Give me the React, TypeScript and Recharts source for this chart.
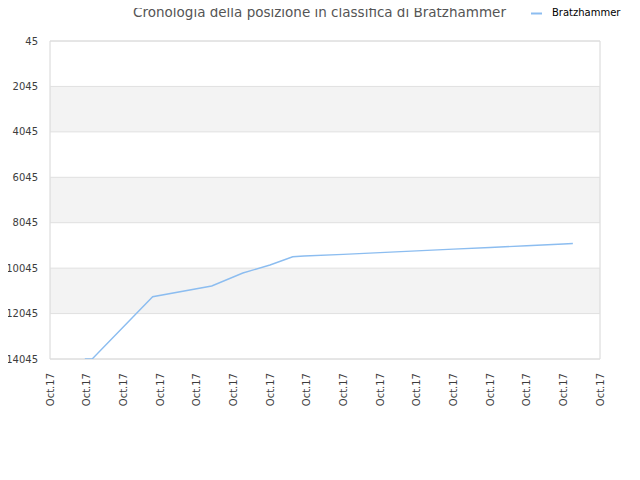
import {
  LineChart,
  Line,
  XAxis,
  YAxis,
  ReferenceArea,
  ReferenceLine,
} from "recharts";

// x positions are measured in tick slots (0..15), all labelled Oct.17
const stamps = [0.95, 1.15, 2.8, 4.41, 5.26, 6.0, 6.62, 6.93, 8, 9, 10, 11, 12, 13, 14, 14.26];
const ranks = [14045, 14045, 11302, 10831, 10259, 9907, 9542, 9511, 9437, 9362, 9287, 9208, 9133, 9058, 8983, 8961];

const xTicks = [0, 1, 2, 3, 4, 5, 6, 7, 8, 9, 10, 11, 12, 13, 14, 15];
const xLabels = [
  "Oct.17", "Oct.17", "Oct.17", "Oct.17", "Oct.17", "Oct.17", "Oct.17", "Oct.17",
  "Oct.17", "Oct.17", "Oct.17", "Oct.17", "Oct.17", "Oct.17", "Oct.17", "Oct.17",
];
const yTicks = [45, 2045, 4045, 6045, 8045, 10045, 12045, 14045];
const bands = [
  [2045, 4045],
  [6045, 8045],
  [10045, 12045],
];

const seriesName = "Bratzhammer";
const title = "Cronologia della posizione in classifica di Bratzhammer";

const FONT = "'DejaVu Sans', sans-serif";
const LINE_COLOR = "#8cbdf0";

const data = stamps.map((t, i) => ({ t, rank: ranks[i] }));

function XTick({ x, y, payload }: any) {
  const yy = y + 6;
  return (
    <text
      x={x}
      y={yy}
      transform={`rotate(-90 ${x} ${yy})`}
      textAnchor="end"
      dominantBaseline="central"
      fontSize={10}
      fontFamily={FONT}
      fill="#3d3d3d"
    >
      {xLabels[payload.index] ?? xLabels[0]}
    </text>
  );
}

function YTick({ x, y, payload }: any) {
  return (
    <text
      x={x - 4}
      y={y}
      textAnchor="end"
      dominantBaseline="central"
      fontSize={10}
      fontFamily={FONT}
      fill="#3d3d3d"
    >
      {payload.value}
    </text>
  );
}

export default function App() {
  return (
    <div style={{ position: "relative", width: 640, height: 480, margin: -8, background: "#fff" }}>
      <svg
        width={640}
        height={30}
        style={{ position: "absolute", top: 0, left: 0, zIndex: 2 }}
      >
        <text
          x={319.5}
          y={16.5}
          textAnchor="middle"
          fontFamily={FONT}
          fontSize={13.5}
          fill="#555"
        >
          {title}
        </text>
        <line x1={531} x2={542} y1={13.5} y2={13.5} stroke={LINE_COLOR} strokeWidth={2} />
        <text x={552} y={16} fontFamily={FONT} fontSize={10} fill="#000">
          {seriesName}
        </text>
      </svg>
      <LineChart
        width={640}
        height={480}
        data={data}
        margin={{ top: 41, right: 40, bottom: 0, left: 0 }}
      >
        <XAxis
          type="number"
          dataKey="t"
          domain={[0, 15]}
          ticks={xTicks}
          interval={0}
          axisLine={false}
          tickLine={false}
          height={121}
          tick={<XTick />}
          allowDataOverflow
        />
        <YAxis
          type="number"
          domain={[45, 14045]}
          ticks={yTicks}
          reversed
          interval={0}
          axisLine={false}
          tickLine={false}
          width={50}
          tick={<YTick />}
          allowDataOverflow
        />
        {bands.map(([a, b], i) => (
          <ReferenceArea
            key={`band-${i}`}
            y1={a}
            y2={b}
            fill="#f3f3f3"
            fillOpacity={1}
            stroke="none"
          />
        ))}
        {yTicks.map((v) => (
          <ReferenceLine key={`grid-${v}`} y={v} stroke="#e0e0e0" strokeWidth={1} />
        ))}
        <ReferenceArea
          x1={0}
          x2={15}
          y1={45}
          y2={14045}
          fill="none"
          stroke="#d6d6d6"
          strokeWidth={1}
        />
        <Line
          type="linear"
          dataKey="rank"
          name={seriesName}
          stroke={LINE_COLOR}
          strokeWidth={1.4}
          dot={false}
          activeDot={false}
          isAnimationActive={false}
        />
      </LineChart>
    </div>
  );
}
